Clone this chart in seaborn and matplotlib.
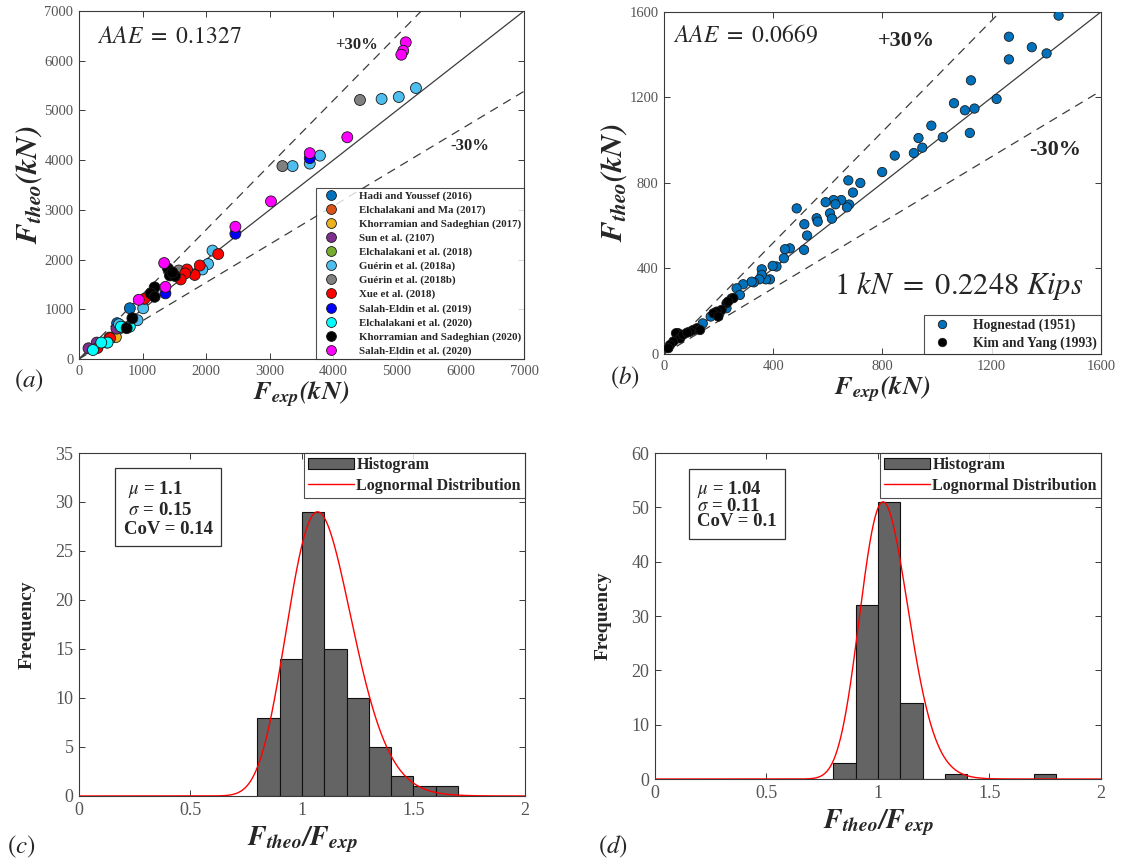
import numpy as np
import pandas as pd
import matplotlib
matplotlib.use("Agg")
import matplotlib.pyplot as plt
import seaborn as sns

# ---------------- (a) experimental vs. theoretical capacity, kN ----------------
a_series = ["Hadi and Youssef (2016)", "Elchalakani and Ma (2017)",
            "Khorramian and Sadeghian (2017)", "Sun et al. (2107)",
            "Elchalakani et al. (2018)", "Guérin et al. (2018a)",
            "Guérin et al. (2018b)", "Xue et al. (2018)",
            "Salah-Eldin et al. (2019)", "Elchalakani et al. (2020)",
            "Khorramian and Sadeghian (2020)", "Salah-Eldin et al. (2020)"]
a_colors = ["#0072BD", "#D95319", "#EDB120", "#7E2F8E", "#77AC30", "#4DBEEE",
            "#808080", "#FF0000", "#0000FF", "#00FFFF", "#000000", "#FF00FF"]

hadi2016_exp = [800, 600]
hadi2016_theo = [1020, 720]
elchalakani_ma2017_exp = [480, 300]
elchalakani_ma2017_theo = [430, 270]
khorramian2017_exp = [580]
khorramian2017_theo = [440]
sun2107_exp = [150, 280, 590]
sun2107_theo = [215, 330, 610]
elchalakani2018_exp = [440]
elchalakani2018_theo = [330]
guerin2018a_exp = [5300, 5030, 4760, 3790, 3630, 3360, 2100, 2030, 1940, 1010, 920, 630]
guerin2018a_theo = [5450, 5270, 5230, 4090, 3930, 3880, 2180, 1910, 1800, 1020, 780, 700]
guerin2018b_exp = [4420, 3200, 1570]
guerin2018b_theo = [5210, 3880, 1780]
xue2018_exp = [2190, 1900, 1820, 1700, 1670, 1600, 1030, 490, 290, 700]
xue2018_theo = [2110, 1880, 1690, 1800, 1720, 1600, 1210, 420, 220, 640]
salah2019_exp = [3630, 2460, 1360]
salah2019_theo = [4040, 2520, 1320]
elchalakani2020_exp = [800, 660, 450, 350, 220]
elchalakani2020_theo = [650, 650, 330, 330, 180]
khorramian2020_exp = [1400, 1430, 1510, 1190, 1130, 1190, 840, 750, 1470]
khorramian2020_theo = [1820, 1680, 1670, 1440, 1320, 1250, 820, 620, 1740]
salah2020_exp = [5140, 5100, 5070, 4220, 3630, 3020, 2460, 1340, 1360, 940]
salah2020_theo = [6370, 6200, 6120, 4460, 4140, 3170, 2660, 1930, 1450, 1190]

a_exp = [hadi2016_exp, elchalakani_ma2017_exp, khorramian2017_exp, sun2107_exp,
         elchalakani2018_exp, guerin2018a_exp, guerin2018b_exp, xue2018_exp,
         salah2019_exp, elchalakani2020_exp, khorramian2020_exp, salah2020_exp]
a_theo = [hadi2016_theo, elchalakani_ma2017_theo, khorramian2017_theo, sun2107_theo,
          elchalakani2018_theo, guerin2018a_theo, guerin2018b_theo, xue2018_theo,
          salah2019_theo, elchalakani2020_theo, khorramian2020_theo, salah2020_theo]
a_aae = 0.1327

# ---------------- (b) plain concrete columns, kN ----------------
b_series = ["Hognestad (1951)", "Kim and Yang (1993)"]
b_colors = ["#0072BD", "#000000"]
hognestad_exp = [1445, 1263, 1347, 1401, 1263, 1124, 1218, 1062, 1102, 1137, 1120,
                 979, 932, 946, 915, 1021, 845, 799, 675, 719, 692, 678, 670, 649,
                 621, 628, 592, 608, 615, 486, 559, 563, 514, 524, 513, 461, 443,
                 439, 412, 398, 388, 373, 358, 358, 349, 329, 321, 290, 266, 278,
                 229, 203, 171, 142]
hognestad_theo = [1583, 1484, 1435, 1406, 1378, 1280, 1193, 1173, 1140, 1148, 1034,
                  1068, 1010, 965, 940, 1014, 928, 851, 812, 800, 755, 699, 686, 720,
                  720, 700, 710, 658, 633, 681, 635, 619, 607, 554, 487, 494, 490,
                  448, 409, 412, 349, 349, 396, 370, 349, 335, 338, 326, 307, 276,
                  214, 190, 175, 143]
kimyang_exp = [248, 229, 211, 193, 181, 199, 254, 235, 120, 107, 95, 132, 52, 44,
               59, 34, 22, 16, 70, 85]
kimyang_theo = [260, 237, 206, 198, 190, 175, 261, 245, 120, 112, 104, 112, 97, 97,
                73, 58, 42, 27, 90, 100]
b_aae = 0.0669

# ---------------- (c), (d) ratio histograms ----------------
c_edges = [0.8, 0.9, 1.0, 1.1, 1.2, 1.3, 1.4, 1.5, 1.6, 1.7]
c_counts = [8, 14, 29, 15, 10, 5, 2, 1, 1]
c_mu, c_sigma, c_cov = 1.1, 0.15, 0.14

d_edges = [0.8, 0.9, 1.0, 1.1, 1.2, 1.3, 1.4, 1.5, 1.6, 1.7, 1.8]
d_counts = [3, 32, 51, 14, 0, 1, 0, 0, 0, 1]
d_mu, d_sigma, d_cov = 1.04, 0.11, 0.1

# ---------------- style ----------------
sns.set_theme(style="ticks")
plt.rcParams["font.family"] = ["Liberation Serif", "DejaVu Serif"]
plt.rcParams["mathtext.fontset"] = "custom"
plt.rcParams["mathtext.rm"] = "STIXGeneral"
plt.rcParams["mathtext.it"] = "STIXGeneral:italic"
plt.rcParams["mathtext.bf"] = "STIXGeneral:italic:bold"

SPINE = "#3a3a3a"
TICKC = "#555555"
LINEC = "#3c3c3c"

fig = plt.figure(figsize=(11.25, 8.65), dpi=100)
ax_a = fig.add_axes([0.0702, 0.5850, 0.3956, 0.4023])
ax_b = fig.add_axes([0.5902, 0.5908, 0.3884, 0.3954])
ax_c = fig.add_axes([0.0702, 0.0798, 0.3964, 0.3965])
ax_d = fig.add_axes([0.5822, 0.0994, 0.3964, 0.3769])


def frame(ax, tick_size):
    for sp in ax.spines.values():
        sp.set_visible(True)
        sp.set_color(SPINE)
        sp.set_linewidth(0.8)
    ax.tick_params(direction="in", top=True, right=True, length=4, width=0.7,
                   color=SPINE, labelcolor=TICKC, labelsize=tick_size, pad=4)


def scatter_panel(ax, exp_lists, theo_lists, names, colors, lim, ticks, msize,
                  legend_fs, leg_kw):
    df = pd.concat([pd.DataFrame({"exp": e, "theo": t, "src": n})
                    for e, t, n in zip(exp_lists, theo_lists, names)],
                   ignore_index=True)
    xs = np.array([0, lim])
    ax.plot(xs, xs, color=LINEC, lw=0.9, zorder=1)
    ax.plot(xs, 1.3 * xs, color=LINEC, lw=0.9, ls=(0, (7, 5)), zorder=1)
    ax.plot(xs, xs / 1.3, color=LINEC, lw=0.9, ls=(0, (7, 5)), zorder=1)
    sns.scatterplot(data=df, x="exp", y="theo", hue="src", hue_order=names,
                    palette=dict(zip(names, colors)), s=msize, edgecolor="#1a1a1a",
                    linewidth=0.6, ax=ax, zorder=3, legend=True)
    ax.set_xlim(0, lim)
    ax.set_ylim(0, lim)
    ax.set_xticks(ticks)
    ax.set_yticks(ticks)
    handles, labels = ax.get_legend_handles_labels()
    for h in handles:
        h.set_markeredgecolor("#1a1a1a")
        h.set_markeredgewidth(0.6)
    leg = ax.legend(handles, labels, loc="lower right", borderaxespad=0,
                    frameon=True, fancybox=False, edgecolor="#222222",
                    prop={"family": "Liberation Serif", "weight": "bold",
                          "size": legend_fs}, **leg_kw)
    leg.get_frame().set_linewidth(0.8)
    leg.set_zorder(5)
    ax.set_xlabel(r"$\mathbf{F_{exp}(kN)}$", fontsize=19, labelpad=2)
    ax.set_ylabel(r"$\mathbf{F_{theo}(kN)}$", fontsize=22, labelpad=0)
    frame(ax, 10.5)


# (a)
scatter_panel(ax_a, a_exp, a_theo, a_series, a_colors, 7000,
              np.arange(0, 7001, 1000), 62, 7.8,
              dict(labelspacing=0.39, handletextpad=1.4, borderpad=0.3,
                   handlelength=2.2, markerscale=0.9))
ax_a.text(0.04, 0.955, rf"$AAE\ =\ {a_aae}$", transform=ax_a.transAxes,
          fontsize=17, va="top", ha="left")
ax_a.text(0.575, 0.925, "+30%", transform=ax_a.transAxes, fontsize=12,
          fontweight="bold", ha="left", va="top")
ax_a.text(0.835, 0.635, "-30%", transform=ax_a.transAxes, fontsize=12,
          fontweight="bold", ha="left", va="top")

# (b)
scatter_panel(ax_b, [hognestad_exp, kimyang_exp], [hognestad_theo, kimyang_theo],
              b_series, b_colors, 1600, np.arange(0, 1601, 400), 45, 9.8,
              dict(labelspacing=0.3, handletextpad=1.3, borderpad=0.3,
                   handlelength=2.0, markerscale=0.9))
ax_b.text(0.02, 0.965, rf"$AAE\ =\ {b_aae}$", transform=ax_b.transAxes,
          fontsize=17, va="top", ha="left")
ax_b.text(0.49, 0.945, "+30%", transform=ax_b.transAxes, fontsize=16,
          fontweight="bold", ha="left", va="top")
ax_b.text(0.835, 0.625, "-30%", transform=ax_b.transAxes, fontsize=16,
          fontweight="bold", ha="left", va="top")
ax_b.text(0.96, 0.175, r"$1\ kN\ =\ 0.2248\ Kips$", transform=ax_b.transAxes,
          fontsize=22, ha="right", va="baseline")


def lognormal_curve(mu, sigma, peak):
    s2 = np.log(1 + (sigma / mu) ** 2)
    m = np.log(mu) - s2 / 2
    x = np.linspace(1e-3, 2, 800)
    pdf = np.exp(-(np.log(x) - m) ** 2 / (2 * s2)) / (x * np.sqrt(2 * np.pi * s2))
    return x, pdf / pdf.max() * peak


def hist_panel(ax, edges, counts, mu, sigma, cov, ymax, yticks, box_text, box_ls,
               box_xy):
    centers = [(edges[i] + edges[i + 1]) / 2 for i in range(len(counts))]
    sns.histplot(x=centers, weights=counts, bins=edges, color="#646464",
                 edgecolor="#111111", linewidth=0.8, alpha=1, ax=ax,
                 label="Histogram", zorder=2)
    cx, cy = lognormal_curve(mu, sigma, max(counts))
    sns.lineplot(x=cx, y=cy, color="#FF0000", lw=1.0, ax=ax,
                 label="Lognormal Distribution", zorder=3)
    ax.set_xlim(0, 2)
    ax.set_ylim(0, ymax)
    ax.set_xticks([0, 0.5, 1, 1.5, 2])
    ax.set_xticklabels(["0", "0.5", "1", "1.5", "2"])
    ax.set_yticks(yticks)
    handles, labels = ax.get_legend_handles_labels()
    order = [labels.index("Histogram"), labels.index("Lognormal Distribution")]
    leg = ax.legend([handles[i] for i in order], [labels[i] for i in order],
                    loc="upper right", borderaxespad=0, frameon=True,
                    fancybox=False, edgecolor="#222222",
                    prop={"family": "Liberation Serif", "weight": "bold",
                          "size": 11.5},
                    handlelength=2.9, handletextpad=0.15, borderpad=0.25,
                    labelspacing=0.3)
    leg.get_frame().set_linewidth(0.8)
    ax.text(box_xy[0], box_xy[1], box_text.format(mu=mu, sigma=sigma, cov=cov),
            transform=ax.transAxes, fontsize=13.5, fontweight="bold",
            va="top", ha="left", linespacing=box_ls,
            bbox=dict(boxstyle="square,pad=0.45", fc="white", ec="#333333",
                      lw=0.9))
    ax.set_xlabel(r"$\mathbf{F_{theo}/F_{exp}}$", fontsize=20, labelpad=4)
    ax.set_ylabel("Frequency", fontsize=14, fontweight="bold", labelpad=14)
    frame(ax, 13)


hist_panel(ax_c, c_edges, c_counts, c_mu, c_sigma, c_cov, 35,
           np.arange(0, 36, 5), " $\\mu$ = {mu}\n $\\sigma$ = {sigma}\nCoV = {cov}",
           1.15, (0.10, 0.925))
hist_panel(ax_d, d_edges, d_counts, d_mu, d_sigma, d_cov, 60,
           np.arange(0, 61, 10), "$\\mu$ = {mu}\n$\\sigma$ = {sigma}\nCoV = {cov}",
           0.85, (0.095, 0.92))

# panel letters
for x, y, s in [(0.012, 0.545, "(a)"), (0.542, 0.548, "(b)"),
                (0.006, 0.006, "(c)"), (0.532, 0.006, "(d)")]:
    fig.text(x, y, rf"${s}$", fontsize=18, ha="left", va="bottom")

fig.savefig("out.png", dpi=100)
